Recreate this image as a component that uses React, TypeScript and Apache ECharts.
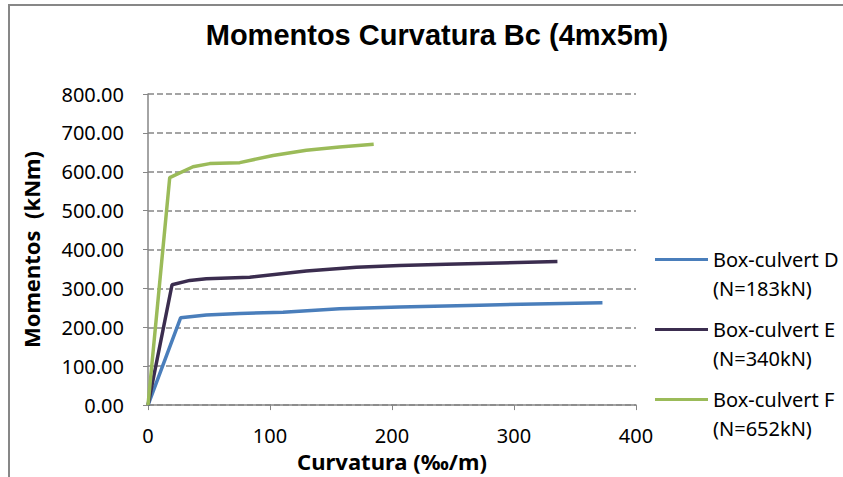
import React, { useEffect, useRef } from "react";
import * as echarts from "echarts";

const titleText = "Momentos Curvatura Bc (4mx5m)";
const xAxisName = "Curvatura (‰/m)";
const yAxisName = "Momentos  (kNm)";
const seriesNames = [
  "Box-culvert D\n(N=183kN)",
  "Box-culvert E\n(N=340kN)",
  "Box-culvert F\n(N=652kN)",
];
const seriesColors = ["#4a7ebb", "#3b2d4f", "#9bbb59"];

const boxD: [number, number][] = [
  [0, 0], [26.8, 224.7], [47.8, 231.6], [75.2, 235.7], [110.7, 239],
  [157, 247.6], [206.3, 252], [272, 257], [372.5, 263],
];
const boxE: [number, number][] = [
  [0, 0], [19.7, 309.5], [34.2, 320.7], [47.8, 324.8], [83.4, 329],
  [129.8, 345], [170.8, 354.6], [206.3, 358.9], [244.6, 362], [335.6, 369],
];
const boxF: [number, number][] = [
  [0, 0], [17.8, 585], [36.9, 613], [50.6, 621], [75.2, 623.5],
  [102.5, 642], [129.8, 655.6], [157, 664], [185, 671],
];
const seriesData = [boxD, boxE, boxF];

const FONT = "'Noto Sans', sans-serif";

export default function App() {
  const ref = useRef<HTMLDivElement>(null);
  useEffect(() => {
    document.body.style.margin = "0";
    if (!ref.current) return;
    const chart = echarts.init(ref.current, null, { renderer: "svg" });
    chart.setOption({
      animation: false,
      backgroundColor: "#ffffff",
      title: {
        text: titleText,
        left: 432,
        textAlign: "center",
        top: 15,
        textStyle: {
          fontFamily: "'Liberation Sans', Arial, sans-serif",
          fontWeight: "bold",
          fontSize: 29,
          color: "#000",
        },
      },
      graphic: [
        {
          type: "polyline",
          shape: { points: [[9, 477], [9, 5], [843, 5]] },
          style: { stroke: "#878787", lineWidth: 2, fill: "none" },
          silent: true,
        },
      ],
      grid: { left: 148, right: 207, top: 94, bottom: 69 },
      legend: {
        orient: "vertical",
        left: 655,
        top: 216,
        padding: 0,
        icon: "rect",
        itemWidth: 53,
        itemHeight: 3,
        itemGap: -17,
        data: seriesNames,
        formatter: (name: string) => "\n" + name,
        textStyle: {
          fontFamily: FONT,
          fontSize: 20,
          lineHeight: 29,
          color: "#000",
        },
      },
      xAxis: {
        type: "value",
        min: 0,
        max: 400,
        interval: 100,
        name: xAxisName,
        nameLocation: "middle",
        nameGap: 40,
        nameTextStyle: { fontFamily: FONT, fontSize: 22, fontWeight: "bold", color: "#000" },
        axisLine: { show: true, lineStyle: { color: "#868686", width: 1.5 } },
        axisTick: { show: true, length: 5, lineStyle: { color: "#868686" } },
        axisLabel: { fontFamily: FONT, fontSize: 20, color: "#000", margin: 20 },
        splitLine: { show: false },
      },
      yAxis: {
        type: "value",
        min: 0,
        max: 800,
        interval: 100,
        name: yAxisName,
        nameLocation: "middle",
        nameGap: 106,
        nameRotate: 90,
        nameTextStyle: { fontFamily: FONT, fontSize: 22, fontWeight: "bold", color: "#000" },
        axisLine: { show: true, lineStyle: { color: "#868686", width: 1.5 } },
        axisTick: { show: true, length: 5, lineStyle: { color: "#868686" } },
        axisLabel: {
          fontFamily: FONT,
          fontSize: 20,
          color: "#000",
          margin: 24,
          formatter: (v: number) => v.toFixed(2),
        },
        splitLine: {
          show: true,
          lineStyle: { color: "#868686", type: [6, 3], width: 1.5 },
        },
      },
      series: seriesNames.map((name, i) => ({
        name,
        type: "line",
        data: seriesData[i],
        symbol: "none",
        color: seriesColors[i],
        lineStyle: { color: seriesColors[i], width: 3.5 },
      })),
    });
    return () => chart.dispose();
  }, []);
  return <div ref={ref} style={{ width: 843, height: 477 }} />;
}
